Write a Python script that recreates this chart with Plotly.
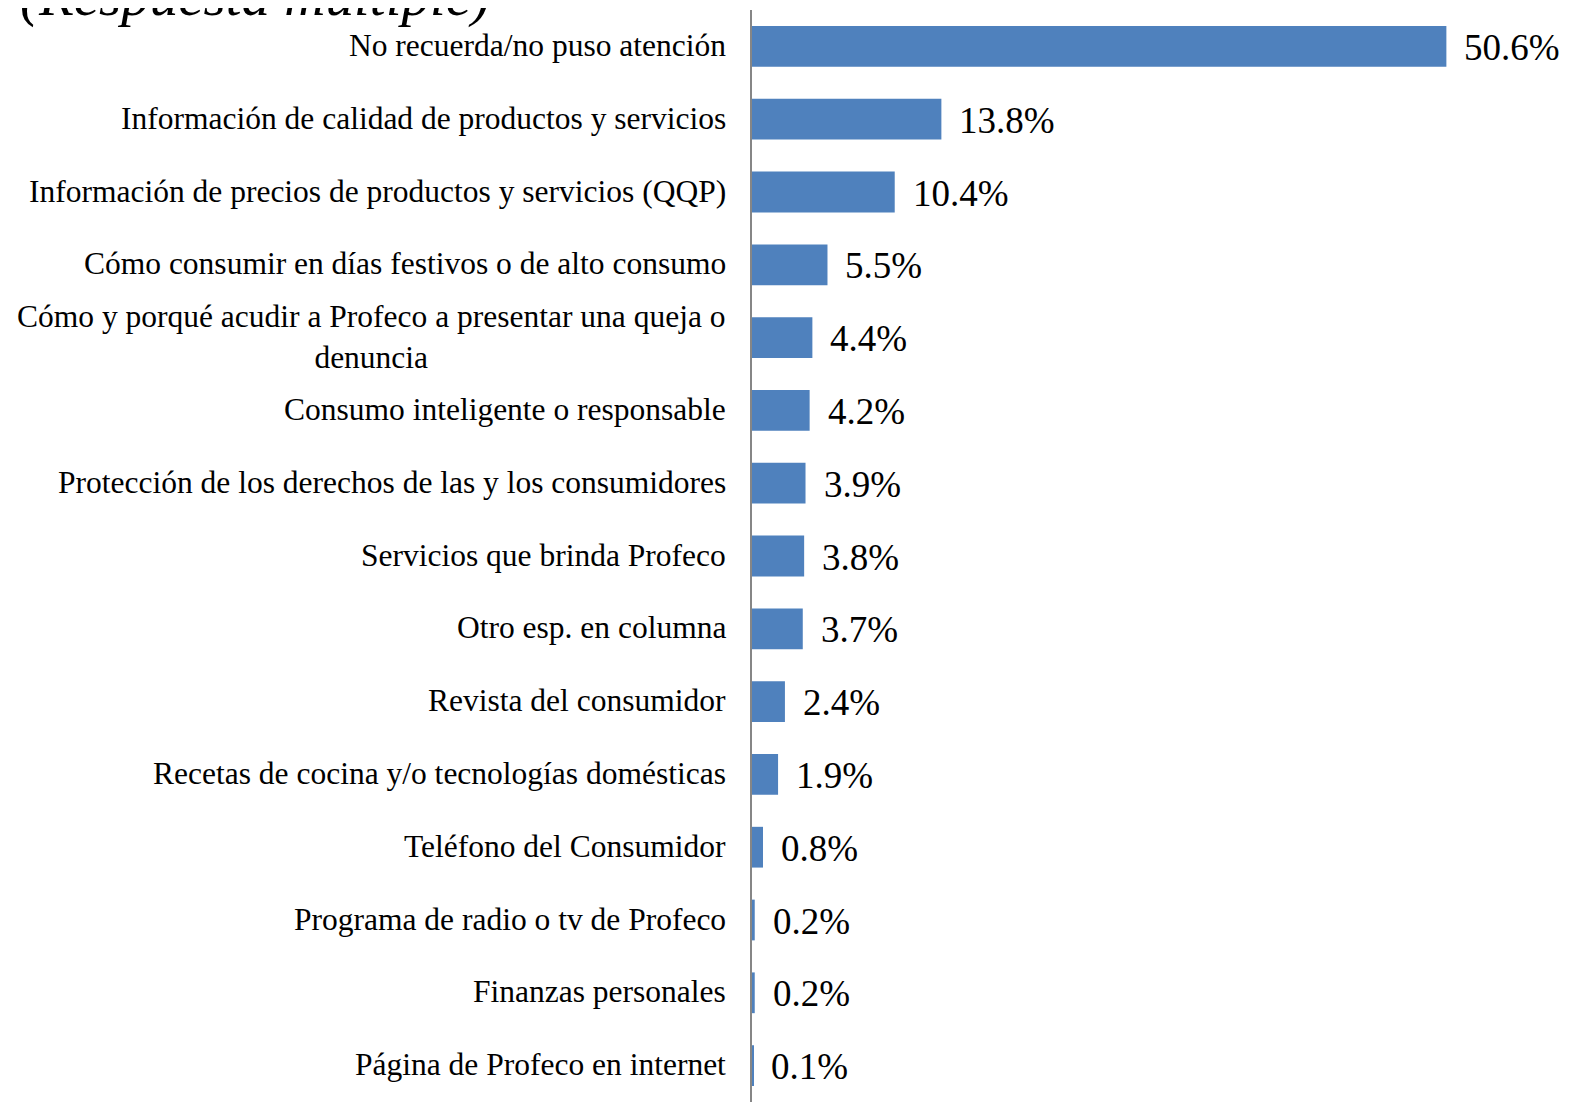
import plotly.graph_objects as go

categories = [
    "No recuerda/no puso atención",
    "Información de calidad de productos y servicios",
    "Información de precios de productos y servicios (QQP)",
    "Cómo consumir en días festivos o de alto consumo",
    "Cómo y porqué acudir a Profeco a presentar una queja o<br>denuncia",
    "Consumo inteligente o responsable",
    "Protección de los derechos de las y los consumidores",
    "Servicios que brinda Profeco",
    "Otro esp. en columna",
    "Revista del consumidor",
    "Recetas de cocina y/o tecnologías domésticas",
    "Teléfono del Consumidor",
    "Programa de radio o tv de Profeco",
    "Finanzas personales",
    "Página de Profeco en internet",
]
values = [50.6, 13.8, 10.4, 5.5, 4.4, 4.2, 3.9, 3.8, 3.7, 2.4, 1.9, 0.8, 0.2, 0.2, 0.1]
value_labels = [f"{v:.1f}%" for v in values]
title_text = "(Respuesta múltiple)"

FONT = "Liberation Serif"
ids = list(range(len(categories)))

fig = go.Figure(go.Bar(
    x=values, y=ids, orientation="h",
    marker=dict(color="#4F81BD", line=dict(width=0)),
    width=0.56,
))

for i, (c, v, t) in enumerate(zip(categories, values, value_labels)):
    fig.add_annotation(x=v, y=i, xref="x", yref="y", text=t, showarrow=False,
                       xanchor="left", xshift=16, yshift=-1,
                       font=dict(family=FONT, size=37, color="black"))
    fig.add_annotation(x=0, y=i, xref="paper", yref="y", text=c, showarrow=False,
                       xanchor="right", xshift=-24, align="center", yshift=1,
                       font=dict(family=FONT, size=31.5, color="black"))

fig.add_annotation(x=0, y=1, xref="paper", yref="paper", text="<i>" + title_text + "</i>",
                   showarrow=False, xanchor="left", yanchor="bottom",
                   xshift=-734, yshift=-20,
                   font=dict(family=FONT, size=57, color="black"))

fig.update_layout(
    width=1566, height=1094,
    margin=dict(l=744, r=0, t=2, b=0),
    paper_bgcolor="white", plot_bgcolor="white",
    showlegend=False,
    xaxis=dict(range=[0, 59.9], visible=False, showgrid=False, zeroline=False),
    yaxis=dict(range=[14.5, -0.5], showticklabels=False, showgrid=False, zeroline=False,
               showline=True, linecolor="#868686", linewidth=2, ticks=""),
)

fig.write_html("out.html")
